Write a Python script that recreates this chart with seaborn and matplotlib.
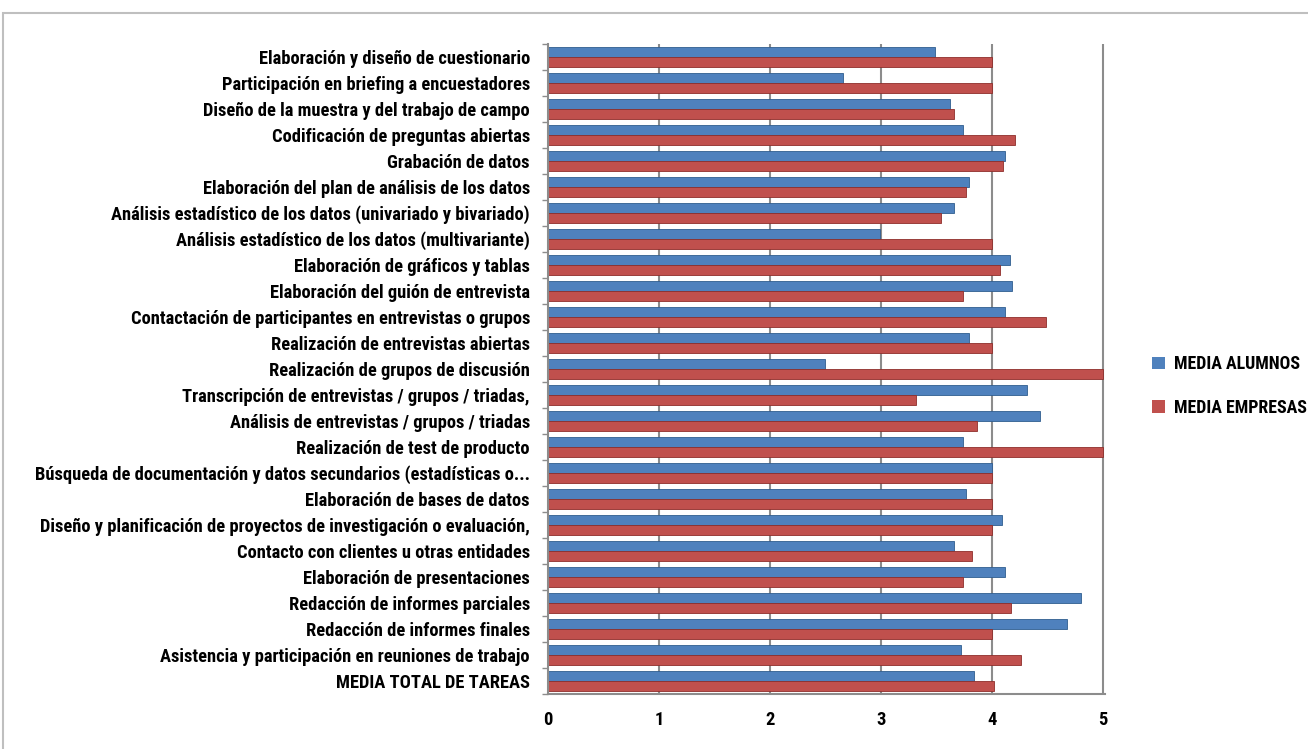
import matplotlib
matplotlib.use("Agg")
import matplotlib.pyplot as plt
import seaborn as sns
import pandas as pd
from matplotlib.patches import Rectangle
from matplotlib import font_manager

# Task categories, top to bottom
tareas = [
    "Elaboración y diseño de cuestionario",
    "Participación en briefing a encuestadores",
    "Diseño de la muestra y del trabajo de campo",
    "Codificación de preguntas abiertas",
    "Grabación de datos",
    "Elaboración del plan de análisis de los datos",
    "Análisis estadístico de los datos (univariado y bivariado)",
    "Análisis estadístico de los datos (multivariante)",
    "Elaboración de gráficos y tablas",
    "Elaboración del guión de entrevista",
    "Contactación de participantes en entrevistas o grupos",
    "Realización de entrevistas abiertas",
    "Realización de grupos de discusión",
    "Transcripción de entrevistas / grupos / triadas,",
    "Análisis de entrevistas / grupos / triadas",
    "Realización de test de producto",
    "Búsqueda de documentación y datos secundarios (estadísticas o...",
    "Elaboración de bases de datos",
    "Diseño y planificación de proyectos de investigación o evaluación,",
    "Contacto con clientes u otras entidades",
    "Elaboración de presentaciones",
    "Redacción de informes parciales",
    "Redacción de informes finales",
    "Asistencia y participación en reuniones de trabajo",
    "MEDIA TOTAL DE TAREAS",
]

media_alumnos = [3.49, 2.66, 3.62, 3.74, 4.12, 3.79, 3.66, 2.99, 4.16, 4.18,
                 4.12, 3.79, 2.50, 4.32, 4.43, 3.74, 4.00, 3.77, 4.09, 3.66,
                 4.12, 4.80, 4.68, 3.72, 3.84]
media_empresas = [4.00, 4.00, 3.66, 4.21, 4.10, 3.77, 3.54, 4.00, 4.07, 3.74,
                  4.49, 4.00, 5.00, 3.32, 3.87, 5.00, 4.00, 4.00, 4.00, 3.82,
                  3.74, 4.17, 4.00, 4.26, 4.02]

series_names = ["MEDIA ALUMNOS", "MEDIA EMPRESAS"]
series_colors = ["#4F81BD", "#C0504D"]
x_ticks = [0, 1, 2, 3, 4, 5]

df = pd.DataFrame({
    "tarea": tareas * 2,
    "valor": media_alumnos + media_empresas,
    "serie": [series_names[0]] * len(tareas) + [series_names[1]] * len(tareas),
})

sns.set_theme(style="white")

# prefer a narrow sans face for the long category labels
available = {(f.name, f.stretch) for f in font_manager.fontManager.ttflist}
names = {n for n, _ in available}
stretch = "normal"
if "Liberation Sans Narrow" in names:
    family = "Liberation Sans Narrow"
elif "Roboto Condensed" in names:
    family = "Roboto Condensed"
elif any(n == "DejaVu Sans" and s in ("condensed", "semi-condensed") for n, s in available):
    family, stretch = "DejaVu Sans", "condensed"
elif "Roboto" in names:
    family = "Roboto"
else:
    family = "Liberation Sans"
plt.rcParams["font.family"] = [family, "DejaVu Sans"]
plt.rcParams["font.stretch"] = stretch
plt.rcParams["font.weight"] = "bold"
plt.rcParams["text.color"] = "black"
plt.rcParams["xtick.labelcolor"] = "black"
plt.rcParams["ytick.labelcolor"] = "black"

W, H = 1308, 749
fig = plt.figure(figsize=(W / 100, H / 100), dpi=100)
fig.patch.set_facecolor("white")
renderer = fig.canvas.get_renderer()


def fitted_size(text, target_px, base=10):
    probe = fig.text(0, 0, text, fontsize=base, fontweight="bold")
    w = probe.get_window_extent(renderer).width
    probe.remove()
    return base * target_px / w


longest = max(tareas, key=len)
label_size = min(fitted_size(tareas[0], 298), fitted_size(longest, 492))
legend_size = fitted_size(series_names[1], 133)

# outer chart frame
fig.patches.append(Rectangle((3 / W, -0.01), 1.1, 1 - 13 / H + 0.01,
                             transform=fig.transFigure, fill=False,
                             edgecolor="#BFBFBF", linewidth=1.5))

ax = fig.add_axes([548 / W, 1 - 694 / H, (1105 - 548) / W, (694 - 44) / H])

sns.barplot(data=df, x="valor", y="tarea", hue="serie", orient="h",
            palette=series_colors, width=0.74, ax=ax, saturation=1,
            linewidth=0, legend=True)

# darker outlines mimic the bevelled bar faces
for cont, col in zip(ax.containers, ["#2F5D8F", "#8E2E2B"]):
    for bar in cont:
        bar.set_edgecolor(col)
        bar.set_linewidth(0.6)

ax.set_xlim(0, 5.02)
ax.set_ylim(len(tareas) - 0.5, -0.5)
ax.set_xticks(x_ticks)
ax.set_xticklabels([str(t) for t in x_ticks], fontsize=label_size, fontweight="bold",
                   color="black")
ax.set_xlabel("")
ax.set_ylabel("")
ax.tick_params(axis="y", length=0, pad=13, labelsize=label_size, labelcolor="black")
for lbl in ax.get_yticklabels():
    lbl.set_fontweight("bold")
ax.tick_params(axis="x", length=5, width=1, color="#8C8C8C", pad=7, direction="out")

for v in x_ticks[1:]:
    ax.axvline(v, color="#8C8C8C", linewidth=1.5, zorder=0)

# minor ticks between categories on the left wall
ax.set_yticks([i + 0.5 for i in range(-1, len(tareas))], minor=True)
ax.tick_params(axis="y", which="minor", length=4, width=1, color="#8C8C8C", left=True)

for side in ["top", "right"]:
    ax.spines[side].set_visible(False)
for side in ["left", "bottom"]:
    ax.spines[side].set_color("#8C8C8C")
    ax.spines[side].set_linewidth(1.5)

leg = ax.legend(loc="center left", frameon=False, fontsize=legend_size,
                handlelength=0.7, handleheight=0.7, handletextpad=0.5,
                labelspacing=1.4, borderaxespad=0)
for t in leg.get_texts():
    t.set_fontweight("bold")
    t.set_color("black")
leg.set_bbox_to_anchor((1145 / W, 1 - 386 / H), transform=fig.transFigure)

fig.savefig("out.png", dpi=100)
